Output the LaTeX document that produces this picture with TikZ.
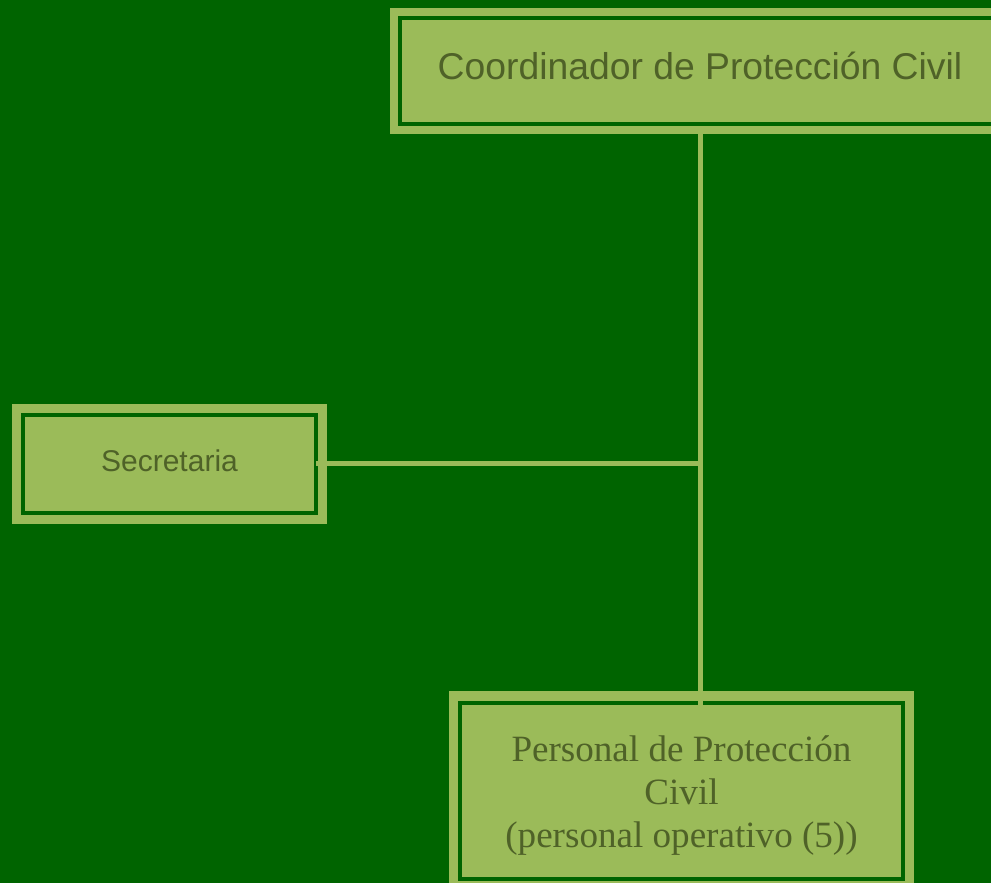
\documentclass[tikz,border=0pt]{standalone}
\usepackage{fontspec}
\setmainfont{Liberation Serif}
\newfontfamily\arialf{Liberation Sans}
\definecolor{bgdark}{RGB}{0,100,0}
\definecolor{boxlight}{RGB}{155,187,89}
\definecolor{txtolive}{RGB}{79,98,40}
\begin{document}
\begin{tikzpicture}[x=1pt,y=-1pt,
  orgbox/.style={fill=boxlight, draw=none, inner sep=0pt, text=txtolive, align=center},
  darkline/.style={draw=bgdark, line width=4pt},
  conn/.style={draw=boxlight, line width=5pt}]
\useasboundingbox (0,0) rectangle (991,883);
\fill[bgdark] (0,0) rectangle (991,883);
% boxes
\node[orgbox, minimum width=620pt, minimum height=126pt, text height=28pt, text depth=10pt,
  font=\arialf\fontsize{37.3}{43}\selectfont] (coord) at (700,71)
  {Coordinador de Protección Civil};
\draw[darkline] ([shift={(10,10)}]coord.north west) rectangle ([shift={(-10,-10)}]coord.south east);
\node[orgbox, minimum width=315pt, minimum height=120pt, text height=22pt, text depth=8pt,
  font=\arialf\fontsize{30}{36}\selectfont] (secr) at (169.5,464)
  {Secretaria};
\draw[darkline] ([shift={(11,11)}]secr.north west) rectangle ([shift={(-11,-11)}]secr.south east);
\node[orgbox, minimum width=465pt, minimum height=210pt,
  font=\fontsize{37.1}{43}\selectfont] (pers) at (681.5,796)
  {Personal de Protección\\Civil\\(personal operativo (5))};
\draw[darkline] ([shift={(11,12)}]pers.north west) rectangle ([shift={(-11,-22)}]pers.south east);
% connectors
\coordinate (persin) at (700,705);
\coordinate (join) at (700,463);
\coordinate (secrin) at ([xshift=-11pt]secr.east |- join);
\draw[conn] ([yshift=2pt]coord.south -| join) -- (persin);
\draw[conn] (secrin) -- (join);
\end{tikzpicture}
\end{document}
